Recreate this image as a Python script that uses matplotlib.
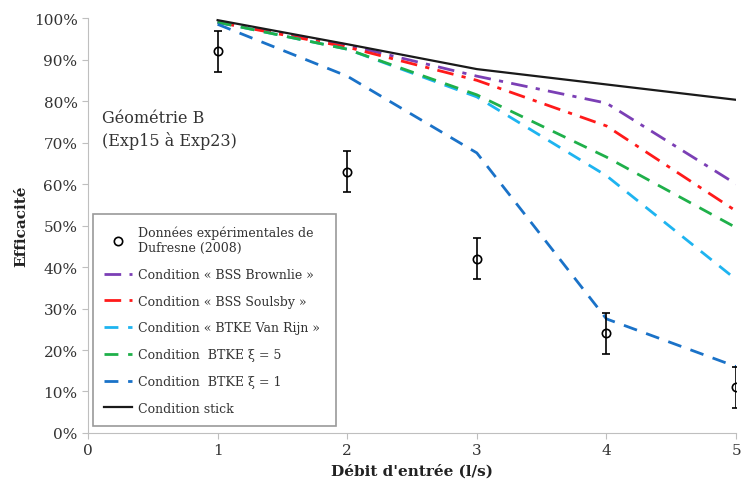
import matplotlib
matplotlib.use('Agg')
import matplotlib.pyplot as plt
import numpy as np
from matplotlib.ticker import PercentFormatter

plt.rcParams['font.family'] = ['DejaVu Serif']

debit = [1, 2, 3, 4, 5]
exp_eff = [0.92, 0.63, 0.42, 0.24, 0.11]
exp_err = [0.05, 0.05, 0.05, 0.05, 0.05]
brownlie = [0.99, 0.935, 0.86, 0.795, 0.60]
soulsby = [0.99, 0.93, 0.85, 0.74, 0.535]
vanrijn = [0.99, 0.925, 0.81, 0.62, 0.37]
btke5 = [0.99, 0.925, 0.815, 0.665, 0.495]
btke1 = [0.985, 0.86, 0.675, 0.275, 0.16]
stick = [0.995, 0.937, 0.877, 0.84, 0.803]

fig = plt.figure(figsize=(7.42, 4.89), dpi=100)
ax = fig.add_axes([0.1186, 0.1125, 0.8734, 0.8485])

eb = ax.errorbar(debit, exp_eff, yerr=exp_err, fmt='o', mfc='none', mec='black',
                 ecolor='black', color='black', ms=6, mew=1.2, capsize=3, elinewidth=1.2,
                 zorder=5)
handles = [eb[0]]
labels = ["Données expérimentales de\nDufresne (2008)"]

series = [
    (brownlie, '#7b3fb5', (6, 3, 1.5, 3), 'Condition « BSS Brownlie »'),
    (soulsby, '#ff1a1a', (6, 3, 1.5, 3), 'Condition « BSS Soulsby »'),
    (vanrijn, '#1eb4f0', (5, 3.5), 'Condition « BTKE Van Rijn »'),
    (btke5, '#1fb04a', (5, 3.5), 'Condition  BTKE ξ = 5'),
    (btke1, '#1a72c8', (5, 3.5), 'Condition  BTKE ξ = 1'),
]
for vals, col, dsh, lab in series:
    ln, = ax.plot(debit, vals, color=col, lw=2, dashes=dsh)
    handles.append(ln)
    labels.append(lab)
ln, = ax.plot(debit, stick, color='#1a1a1a', lw=1.6)
handles.append(ln)
labels.append('Condition stick')

ax.set_xlim(0, 5)
ax.set_ylim(0, 1)
ax.set_yticks(np.arange(0, 1.01, 0.1))
ax.yaxis.set_major_formatter(PercentFormatter(1.0, decimals=0))
ax.set_xticks([0, 1, 2, 3, 4, 5])
for s in ['top', 'right']:
    ax.spines[s].set_visible(False)
for s in ['left', 'bottom']:
    ax.spines[s].set_color('#bfbfbf')
ax.tick_params(colors='#bfbfbf', labelcolor='#333333', labelsize=11, length=4)

ax.set_xlabel("Débit d'entrée (l/s)", fontsize=11, fontweight='bold', color='#222222')
ax.set_ylabel('Efficacité', fontsize=11, fontweight='bold', color='#222222')

ax.text(0.022, 0.78, 'Géométrie B\n(Exp15 à Exp23)', transform=ax.transAxes,
        fontsize=11.5, color='#333333', va='top', linespacing=1.3)

leg = ax.legend(handles, labels, loc='lower left', bbox_to_anchor=(0.0077, 0.017, 0.375, 0),
                mode='expand', fontsize=9, frameon=True, fancybox=False, edgecolor='#808080',
                handlelength=2.2, labelspacing=1.1, borderpad=0.9, borderaxespad=0,
                handletextpad=0.5)
leg.get_frame().set_linewidth(1.2)
for t in leg.get_texts():
    t.set_color('#333333')

fig.savefig('out.png', dpi=100)
